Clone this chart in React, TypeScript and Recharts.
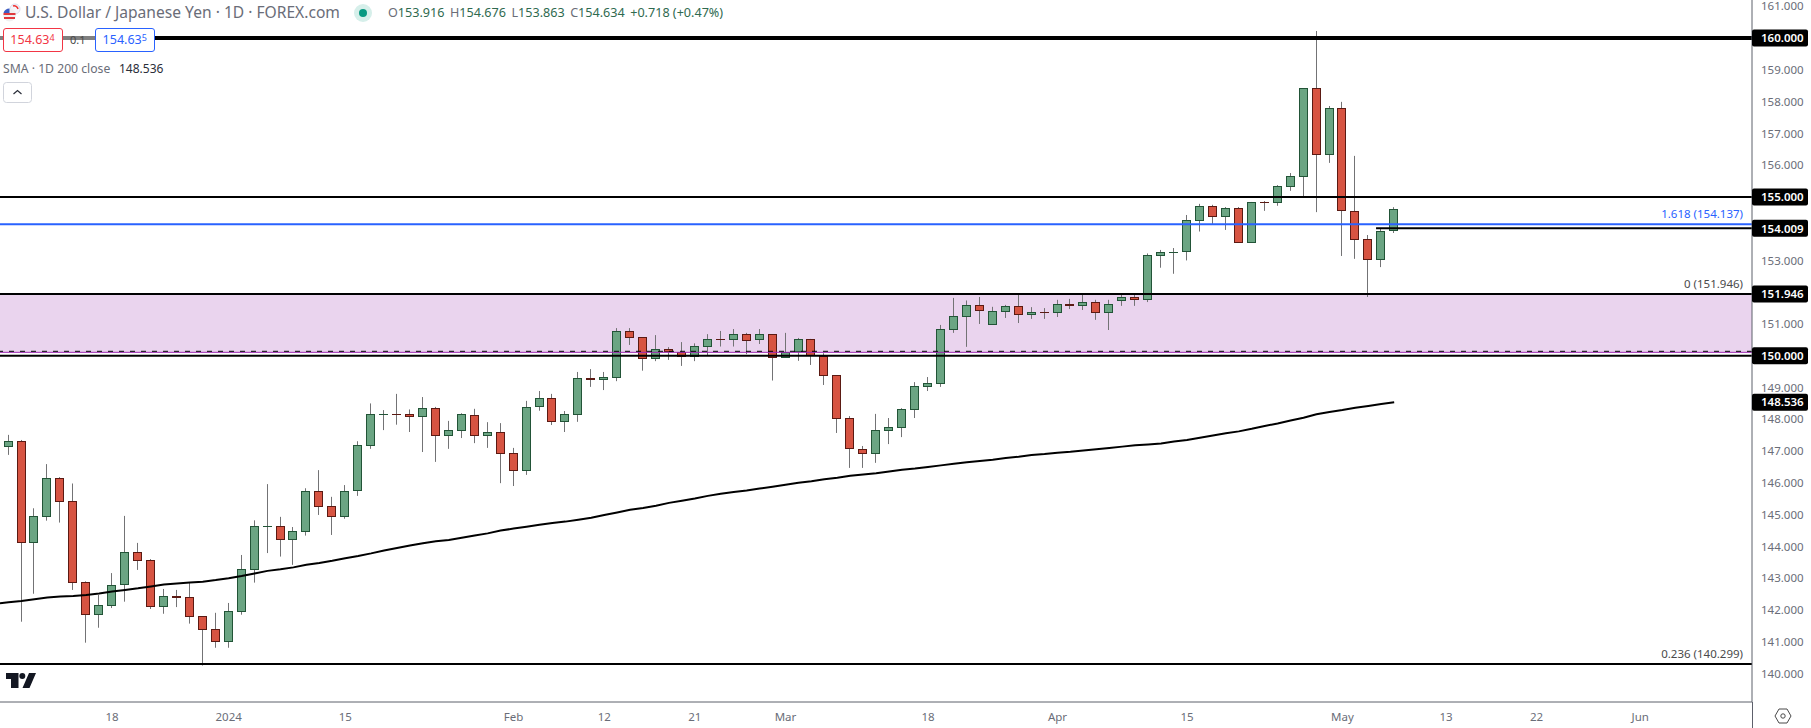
import React from 'react';
import { ComposedChart, Bar, Line, XAxis, YAxis, ReferenceLine, ReferenceArea } from 'recharts';

const opens = [147.14,147.31,144.12,144.94,146.14,145.42,142.87,141.85,142.14,142.77,143.81,143.56,142.10,142.43,142.40,141.80,141.39,141.00,141.95,143.27,144.62,144.63,144.21,144.46,145.73,145.26,144.91,145.73,147.17,148.15,148.16,148.16,148.08,148.35,147.49,147.64,148.13,147.49,147.59,146.93,146.38,148.38,148.66,147.93,148.15,149.29,149.25,149.31,150.77,150.58,149.91,150.20,150.11,149.97,150.29,150.53,150.51,150.67,150.48,150.67,149.94,150.11,150.52,150.00,149.38,148.03,147.06,146.92,147.64,147.74,148.30,149.03,149.12,150.82,151.23,151.59,150.98,151.39,151.56,151.29,151.37,151.33,151.62,151.55,151.68,151.33,151.73,151.84,151.77,153.15,153.25,153.25,154.25,154.70,154.38,154.64,153.56,154.84,154.82,155.32,155.64,158.42,156.33,157.79,154.55,153.66,153.02,153.916];
const highs = [147.51,147.35,145.20,146.59,146.18,145.98,142.90,142.47,143.16,144.96,144.11,143.60,142.66,142.63,142.86,141.80,141.91,142.22,143.73,144.82,145.96,144.93,144.61,145.83,146.40,145.56,145.93,147.31,148.50,148.29,148.80,148.31,148.70,148.39,147.95,148.19,148.33,147.91,147.88,147.10,148.58,148.89,148.80,148.26,149.49,149.58,149.49,150.87,150.87,150.59,150.65,150.27,150.43,150.39,150.68,150.78,150.84,150.72,150.84,150.68,150.72,150.56,150.53,150.08,149.39,148.10,147.16,148.17,148.04,148.35,149.17,149.33,150.97,151.82,151.74,151.85,151.54,151.60,151.97,151.53,151.50,151.76,151.79,151.94,151.76,151.76,151.94,151.94,153.22,153.33,153.39,154.43,154.78,154.75,154.68,154.68,154.84,154.87,155.37,155.75,158.42,160.22,157.86,157.99,156.29,153.80,153.99,154.676];
const lows = [146.88,141.63,142.51,144.81,144.75,142.63,140.97,141.44,142.06,142.26,143.26,142.03,141.88,142.09,141.57,140.25,140.81,140.81,141.85,142.86,143.79,143.68,143.42,144.34,144.99,144.36,144.87,145.59,147.07,147.66,147.83,147.60,146.97,146.66,147.07,147.41,147.25,147.10,145.99,145.90,146.25,148.27,147.82,147.60,147.92,149.02,148.92,149.20,150.34,149.53,149.83,149.87,149.68,149.83,150.02,150.29,150.29,150.05,150.37,149.22,149.93,149.84,149.71,149.08,147.57,146.47,146.47,146.63,147.22,147.44,148.04,148.89,149.02,150.72,150.28,151.00,150.98,151.19,151.03,151.16,151.16,151.22,151.47,151.44,151.13,150.81,151.57,151.57,151.69,152.77,152.58,153.00,153.91,154.15,153.96,153.55,153.55,154.56,154.72,155.19,154.97,154.52,156.07,153.14,153.05,151.85,152.79,153.863];
const closes = [147.31,144.12,144.95,146.14,145.41,142.86,141.85,142.15,142.78,143.81,143.55,142.10,142.43,142.39,141.79,141.38,141.00,141.96,143.28,144.63,144.63,144.21,144.47,145.73,145.25,144.91,145.73,147.18,148.16,148.16,148.14,148.08,148.35,147.49,147.65,148.16,147.49,147.59,146.92,146.38,148.38,148.66,147.93,148.16,149.29,149.25,149.32,150.77,150.57,149.91,150.20,150.11,149.97,150.30,150.52,150.51,150.67,150.47,150.67,149.94,150.11,150.52,150.00,149.37,148.02,147.05,146.92,147.65,147.75,148.31,149.04,149.13,150.83,151.24,151.59,151.42,151.40,151.56,151.29,151.37,151.33,151.62,151.55,151.68,151.33,151.62,151.84,151.77,153.16,153.26,153.26,154.26,154.70,154.38,154.64,153.56,154.83,154.82,155.33,155.65,158.42,156.33,157.79,154.54,153.65,153.02,153.92,154.634];
const smaValues = [142.24,142.28,142.34,142.39,142.42,142.44,142.47,142.52,142.58,142.63,142.68,142.74,142.80,142.83,142.86,142.89,142.94,143.00,143.07,143.15,143.23,143.28,143.34,143.42,143.48,143.55,143.63,143.70,143.78,143.87,143.95,144.03,144.10,144.16,144.20,144.27,144.34,144.41,144.50,144.56,144.62,144.68,144.74,144.78,144.84,144.90,144.99,145.07,145.15,145.21,145.28,145.37,145.44,145.51,145.59,145.66,145.71,145.76,145.82,145.88,145.94,146.00,146.05,146.11,146.16,146.22,146.26,146.30,146.36,146.41,146.45,146.50,146.55,146.60,146.65,146.69,146.73,146.78,146.82,146.88,146.91,146.95,146.98,147.02,147.06,147.10,147.14,147.18,147.21,147.24,147.30,147.35,147.42,147.49,147.56,147.62,147.70,147.79,147.87,147.96,148.05,148.16,148.23,148.29,148.36,148.42,148.48,148.536];
const smaAtLeftEdge = 142.21;

const xTickPositions = [8,17,26,39,46,53,60,71,81,91,103,111,118,126];
const xTickLabels = ['18','2024','15','Feb','12','21','Mar','18','Apr','15','May','13','22','Jun'];
const yPlainTicks = [161,159,158,157,156,153,151,149,148,147,146,145,144,143,142,141,140];
const yTagTicks = [160,155,154.009,151.946,150,148.536];

const thickLevel = 160;
const thinLevels = [155,150];
const fibLevels = [
  { value: 154.137, text: '1.618 (154.137)', color: '#2962FF' },
  { value: 151.946, text: '0 (151.946)', color: '#4a4a4a' },
  { value: 140.299, text: '0.236 (140.299)', color: '#4a4a4a' },
];
const shortLevel = 154.009;
const shortLevelStart = 105.6;
const bandLow = 150.108;
const bandHigh = 151.946;
const dashedLevel = 150.14;

const X_MIN = -0.656;
const X_MAX = 134.63;

const rows: any[] = [
  { idx: X_MIN, sma: smaAtLeftEdge },
  ...opens.map((o, i) => ({
    idx: i,
    open: o,
    high: highs[i],
    low: lows[i],
    close: closes[i],
    range: [lows[i], highs[i]],
    sma: smaValues[i],
  })),
];

const FONT = '"Noto Sans", sans-serif';
const GREEN = '#6ba583', GREEN_B = '#225437', RED = '#d75442', RED_B = '#5b1a13', WICK = '#737375';

function Candle(props: any) {
  const { x, y, width, height, payload } = props;
  if (!payload || payload.open == null || height == null) return null;
  const { open, close, high, low } = payload;
  const span = high - low || 1;
  const px = (v: number) => y + (height * (high - v)) / span;
  const up = close >= open;
  const cx = Math.floor(x + width / 2);
  const top = Math.round(px(Math.max(open, close)));
  const bot = Math.round(px(Math.min(open, close)));
  const fill = up ? GREEN : RED;
  const border = up ? GREEN_B : RED_B;
  const h = Math.max(bot - top, 1);
  return (
    <g>
      <line x1={cx + 0.5} x2={cx + 0.5} y1={y} y2={y + height} stroke={WICK} strokeWidth={1} />
      <rect x={cx - 4} y={top} width={9} height={h} fill={border} />
      {h > 2 && <rect x={cx - 3} y={top + 1} width={7} height={h - 2} fill={fill} />}
    </g>
  );
}

function PriceTick(props: any) {
  const { x, y, payload } = props;
  const v = payload.value;
  const tag = yTagTicks.includes(v);
  return (
    <g>
      {tag && <rect x={x} y={y - 8.5} width={56} height={17} rx={2} fill="#000" />}
      <text x={x + 9} y={y + 4.2} fontFamily={FONT} fontSize={11.5} fill={tag ? '#fff' : '#6a6d78'} fontWeight={tag ? 600 : 400}>
        {v.toFixed(3)}
      </text>
    </g>
  );
}

const box = (left: number, top: number, w: number, h: number, color: string): React.CSSProperties => ({
  position: 'absolute', left, top, width: w, height: h, boxSizing: 'border-box', border: `1px solid ${color}`,
  borderRadius: 3, background: '#fff', color, fontSize: 12.5, lineHeight: `${h - 2}px`, textAlign: 'center',
});

function Ohlc({ k, v }: { k: string; v: string }) {
  return (
    <span style={{ marginRight: 5.5 }}>
      <span style={{ color: '#6a6d78' }}>{k}</span>
      <span style={{ color: '#2f6a4f' }}>{v}</span>
    </span>
  );
}

export default function App() {
  return (
    <div style={{ position: 'absolute', left: 0, top: 0, width: 1811, height: 728, overflow: 'hidden', background: '#fff', fontFamily: FONT }}>
      <ComposedChart width={1811} height={728} data={rows} margin={{ top: 0, right: 0, bottom: 0, left: 0 }}>
        <XAxis
          dataKey="idx" type="number" domain={[X_MIN, X_MAX]} allowDataOverflow
          ticks={xTickPositions} interval={0} height={26} tickLine={false}
          stroke="#5d606b" tickMargin={5}
          tick={{ fill: '#6a6d78', fontSize: 11.5, fontFamily: FONT }}
          tickFormatter={(v: number) => xTickLabels[xTickPositions.indexOf(v)]}
        />
        <YAxis
          orientation="right" width={59} domain={[139.103, 161.196]} allowDataOverflow type="number"
          ticks={[...yPlainTicks, ...yTagTicks].sort((a, b) => b - a)} interval={0}
          tickLine={false} tickSize={0} tickMargin={0} stroke="#5d606b" tick={<PriceTick />}
        />
        <ReferenceArea y1={bandLow} y2={bandHigh} fill="#ead4ee" fillOpacity={1} stroke="none" />
        <ReferenceLine y={bandLow} stroke="#9c27b0" strokeWidth={1} />
        <ReferenceLine y={thickLevel} stroke="#000" strokeWidth={4} />
        {thinLevels.map((v) => <ReferenceLine key={v} y={v} stroke="#000" strokeWidth={2} />)}
        {fibLevels.map((f) => (
          <ReferenceLine
            key={f.value} y={f.value} stroke={f.value === 154.137 ? f.color : '#000'} strokeWidth={2}
            label={{ value: f.text, position: 'insideBottomRight', offset: 9, dy: 3, fill: f.color, fontSize: 11.5, fontFamily: FONT }}
          />
        ))}
        <ReferenceLine segment={[{ x: shortLevelStart, y: shortLevel }, { x: X_MAX, y: shortLevel }]} stroke="#000" strokeWidth={2} />
        <Line dataKey="sma" type="linear" stroke="#000" strokeWidth={2} dot={false} activeDot={false} isAnimationActive={false} />
        <Bar dataKey="range" barSize={9} shape={<Candle />} isAnimationActive={false} />
        <ReferenceLine y={dashedLevel} stroke="#000" strokeWidth={1} strokeDasharray="5 6" />
      </ComposedChart>

      {/* header */}
      <svg style={{ position: 'absolute', left: 2, top: 3 }} width={20} height={20}>
        <circle cx={13} cy={6} r={5} fill="#f5f5fa" stroke="#dde" />
        <path d="M11 3 a4 4 0 0 1 5 3" fill="none" stroke="#e33" strokeWidth={1.5} />
        <circle cx={7.5} cy={12} r={6.5} fill="#f0f0f0" />
        <path d="M1.5 10h12v2h-12zM2 14h11v2h-11z" fill="#e0393e" />
        <path d="M7.5 5.5a6.5 6.5 0 0 0-6 4.5h6z" fill="#3d5cc4" />
      </svg>
      <div style={{ position: 'absolute', left: 25, top: 2, fontSize: 15.6, lineHeight: '21px', color: '#6a6d78', whiteSpace: 'nowrap' }}>
        U.S. Dollar / Japanese Yen · 1D · FOREX.com
      </div>
      <svg style={{ position: 'absolute', left: 353, top: 3 }} width={20} height={20}>
        <circle cx={10} cy={10} r={9} fill="#d6efea" />
        <circle cx={10} cy={10} r={4} fill="#089981" />
      </svg>
      <div style={{ position: 'absolute', left: 388, top: 3, fontSize: 12.6, lineHeight: '20px', whiteSpace: 'nowrap' }}>
        <Ohlc k="O" v="153.916" /><Ohlc k="H" v="154.676" /><Ohlc k="L" v="153.863" /><Ohlc k="C" v="154.634" />
        <span style={{ color: '#2f6a4f' }}>+0.718 (+0.47%)</span>
      </div>
      <div style={{ position: 'absolute', left: 0, top: 36, width: 95, height: 4, background: '#808080' }} />
      <div style={box(2.5, 28, 60, 24, '#f23645')}>154.63<sup style={{ fontSize: 9, verticalAlign: 3, lineHeight: 0 }}>4</sup></div>
      <div style={{ position: 'absolute', left: 70, top: 31, fontSize: 11, lineHeight: '18px', color: '#4a4a4a' }}>0.1</div>
      <div style={box(94.5, 28, 60.5, 24, '#2962ff')}>154.63<sup style={{ fontSize: 9, verticalAlign: 3, lineHeight: 0 }}>5</sup></div>
      <div style={{ position: 'absolute', left: 3, top: 59, fontSize: 12.2, lineHeight: '20px', color: '#6a6d78', whiteSpace: 'nowrap' }}>SMA · 1D 200 close</div>
      <div style={{ position: 'absolute', left: 119, top: 59, fontSize: 12, lineHeight: '20px', color: '#2a2e39', whiteSpace: 'nowrap' }}>148.536</div>
      <svg style={{ position: 'absolute', left: 3, top: 82 }} width={30} height={21}>
        <rect x={0.5} y={0.5} width={28} height={20} rx={3} fill="#fff" stroke="#d1d4dc" />
        <path d="M10.5 12l4-3.5 4 3.5" fill="none" stroke="#2a2e39" strokeWidth={1.2} />
      </svg>
      {/* logo */}
      <svg style={{ position: 'absolute', left: 6, top: 673 }} width={31} height={16}>
        <path d="M0 0h12.5v15H5V6H0zM23 0h7l-6.5 15h-7z" fill="#131722" />
        <circle cx={16.3} cy={3} r={3} fill="#131722" />
      </svg>
      {/* corner */}
      <div style={{ position: 'absolute', left: 1752, top: 702, width: 1, height: 26, background: '#5d606b' }} />
      <svg style={{ position: 'absolute', left: 1774, top: 707 }} width={18} height={18}>
        <path d="M5 2h8l4 7-4 7H5L1 9z" fill="none" stroke="#4a4a4a" strokeWidth={1} />
        <circle cx={9} cy={9} r={2.2} fill="none" stroke="#4a4a4a" strokeWidth={1} />
      </svg>
    </div>
  );
}
